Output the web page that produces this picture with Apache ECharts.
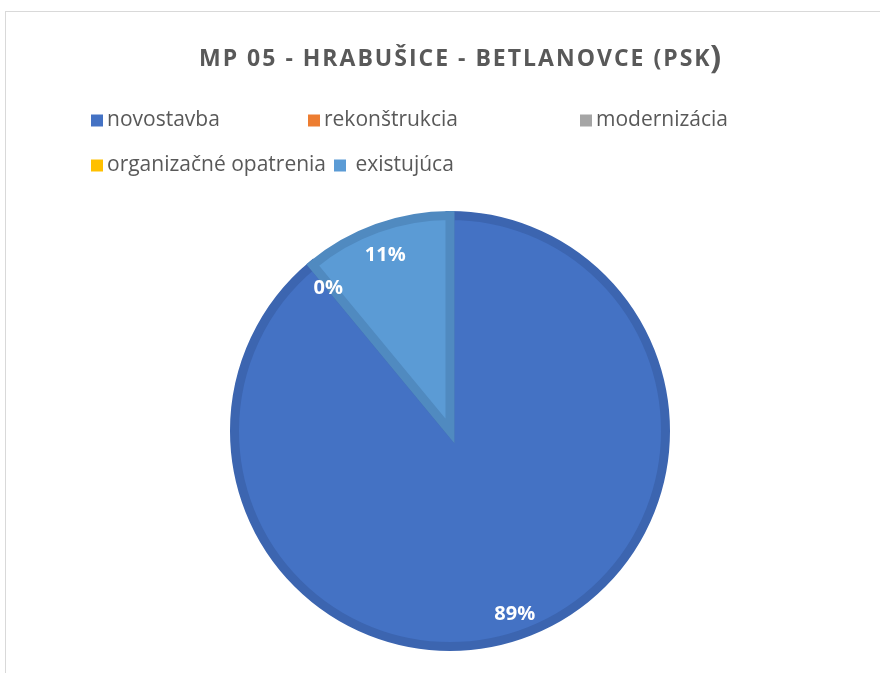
<!DOCTYPE html>
<html>
<head>
<meta charset="utf-8">
<script src="https://cdn.jsdelivr.net/npm/echarts@6/dist/echarts.min.js"></script>
<style>
html,body{margin:0;padding:0;background:#fff;}
#wrap{position:relative;width:880px;height:673px;overflow:hidden;}
#frame{position:absolute;left:5px;top:11px;width:900px;height:700px;border-left:1px solid #d9d9d9;border-top:1px solid #d9d9d9;}
#chart{position:absolute;left:0;top:0;width:880px;height:673px;}
</style>
</head>
<body>
<div id="wrap"><div id="frame"></div><div id="chart"></div></div>
<script>
// ---- data ----
const titleText = 'MP 05 - HRABUŠICE - BETLANOVCE (PSK';
const titleTail = ')';
const categories = ['novostavba', 'rekonštrukcia', 'modernizácia', 'organizačné opatrenia', 'existujúca'];
const legendLabels = ['novostavba', 'rekonštrukcia', 'modernizácia', 'organizačné opatrenia', ' existujúca'];
const values = [89, 0, 0, 0, 11];
const fillColors = ['#4472C4', '#ED7D31', '#A5A5A5', '#FFC000', '#5B9BD5'];
const borderColors = ['#3C65B0', '#D26E2B', '#939393', '#E3AB00', '#508AC0'];
const legendPos = [[91, 110], [308, 110], [580, 110], [91, 155], [334, 155]];

// letter spacing for the title text (canvas)
(function () {
  const proto = CanvasRenderingContext2D.prototype;
  const orig = proto.fillText;
  proto.fillText = function (t, x, y, w) {
    if (typeof t === 'string' && t === titleText && 'letterSpacing' in this) {
      const prev = this.letterSpacing;
      this.letterSpacing = '2px';
      const r = orig.apply(this, arguments);
      this.letterSpacing = prev;
      return r;
    }
    return orig.apply(this, arguments);
  };
})();

const chart = echarts.init(document.getElementById('chart'), null, {renderer: 'canvas'});

const fillData = categories.map((c, i) => ({
  name: c,
  value: values[i],
  itemStyle: {
    color: fillColors[i],
    borderColor: borderColors[i],
    borderWidth: values[i] > 0 ? 9 : 0
  }
}));
const labelData = categories.map((c, i) => ({
  name: c,
  value: values[i],
  label: {show: values[i] > 0 || i === 1}
}));

const legends = categories.map((c, i) => ({
  data: [c],
  left: legendPos[i][0],
  top: legendPos[i][1],
  icon: 'rect',
  itemWidth: 12,
  itemHeight: 12,
  itemGap: 0,
  padding: 0,
  selectedMode: false,
  itemStyle: {color: fillColors[i], borderWidth: 0},
  formatter: () => legendLabels[i],
  textStyle: {fontFamily: 'Open Sans', fontSize: 21, color: '#595959', padding: [0, 0, 0, -1]}
}));

chart.setOption({
  animation: false,
  color: fillColors,
  title: [
    {
      text: titleText,
      left: 199,
      top: 48,
      padding: 0,
      textStyle: {fontFamily: 'Open Sans', fontWeight: 'bold', fontSize: 23, color: '#595959'}
    },
    {
      text: titleTail,
      left: 710,
      top: 42,
      padding: 0,
      textStyle: {fontFamily: 'Open Sans', fontWeight: 'bold', fontSize: 33, color: '#595959'}
    }
  ],
  legend: legends,
  series: [
    {
      type: 'pie',
      center: [450, 431],
      radius: [0, 215.5],
      startAngle: 90,
      clockwise: true,
      silent: true,
      label: {show: false},
      labelLine: {show: false},
      itemStyle: {borderJoin: 'miter'},
      data: fillData
    },
    {
      type: 'pie',
      center: [450, 431],
      radius: [156, 220],
      startAngle: 90,
      clockwise: true,
      silent: true,
      itemStyle: {color: 'rgba(0,0,0,0)'},
      emphasis: {disabled: true},
      label: {
        position: 'inside',
        offset: [0, 4],
        formatter: p => Math.round(p.percent) + '%',
        fontFamily: 'Open Sans',
        fontWeight: 'bold',
        fontSize: 20,
        color: '#ffffff'
      },
      labelLine: {show: false},
      data: labelData
    }
  ]
});
</script>
</body>
</html>
